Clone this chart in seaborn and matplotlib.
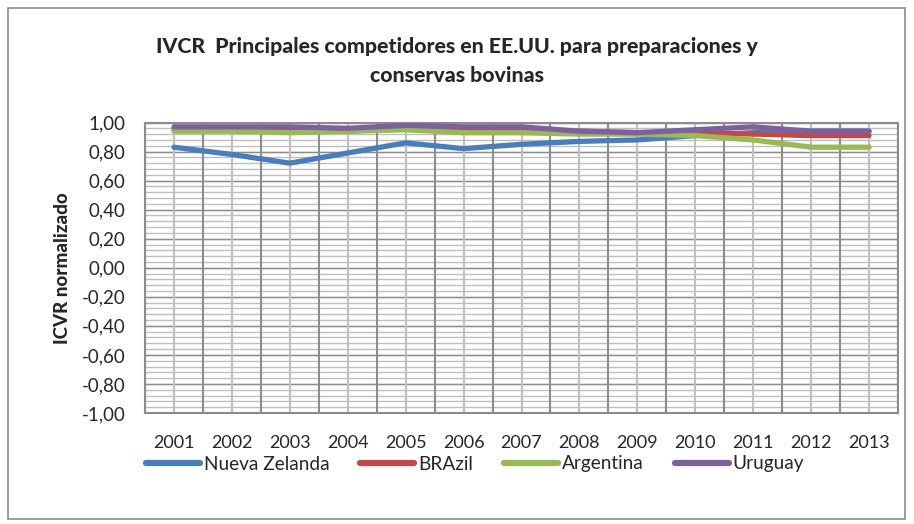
import matplotlib
matplotlib.use("Agg")
import matplotlib.pyplot as plt
import matplotlib.patches as mpatches
from matplotlib.lines import Line2D
import seaborn as sns
import pandas as pd
import numpy as np

years = [2001, 2002, 2003, 2004, 2005, 2006, 2007, 2008, 2009, 2010, 2011, 2012, 2013]
nueva_zelanda = [0.83, 0.78, 0.72, 0.79, 0.86, 0.82, 0.85, 0.87, 0.88, 0.91, 0.93, 0.94, 0.94]
brazil = [0.95, 0.95, 0.95, 0.94, 0.96, 0.95, 0.95, 0.94, 0.93, 0.93, 0.92, 0.91, 0.91]
argentina = [0.94, 0.94, 0.93, 0.94, 0.95, 0.93, 0.93, 0.92, 0.92, 0.91, 0.88, 0.83, 0.83]
uruguay = [0.97, 0.97, 0.97, 0.96, 0.98, 0.97, 0.97, 0.94, 0.93, 0.95, 0.97, 0.94, 0.94]
series_names = ["Nueva Zelanda", "BRAzil", "Argentina", "Uruguay"]
colors = ["#4A7EBB", "#BE4B48", "#98B954", "#7D60A0"]
ytick_vals = [1.0, 0.8, 0.6, 0.4, 0.2, 0.0, -0.2, -0.4, -0.6, -0.8, -1.0]
ytick_labels = ["1,00", "0,80", "0,60", "0,40", "0,20", "0,00", "-0,20", "-0,40", "-0,60", "-0,80", "-1,00"]
title = "IVCR  Principales competidores en EE.UU. para preparaciones y\nconservas bovinas"
ylabel = "ICVR normalizado"

sns.set_theme(style="white")
plt.rcParams["font.family"] = ["Lato", "DejaVu Sans"]

rows = []
for name, vals in zip(series_names, [nueva_zelanda, brazil, argentina, uruguay]):
    for y, v in zip(years, vals):
        rows.append({"year": y, "value": v, "serie": name})
df = pd.DataFrame(rows)

fig = plt.figure(figsize=(9.14, 5.24), dpi=100)
ax = fig.add_axes([145/914, 1-413/524, (898-145)/914, (413-122.5)/524])

# grid
minor_y = np.arange(-1.0, 1.0001, 0.04)
for yv in minor_y:
    ax.axhline(yv, color="#BFBFBF", lw=1.0, zorder=0)
for yv in ytick_vals:
    ax.axhline(yv, color="#8C8C8C", lw=1.0, zorder=0.5)
for x in years:
    ax.axvline(x, color="#BFBFBF", lw=1.5, zorder=0.6)
for x in np.arange(years[0] - 0.5, years[-1] + 0.51, 1.0):
    ax.axvline(x, color="#8C8C8C", lw=1.5, zorder=0.7)

sns.lineplot(data=df, x="year", y="value", hue="serie", hue_order=series_names,
             palette=colors, linewidth=3.8, ax=ax, legend=False, zorder=3,
             solid_capstyle="round")

ax.set_xlim(years[0] - 0.5, years[-1] + 0.5)
ax.set_ylim(-1.0, 1.0)
ax.set_xticks(years)
ax.set_xticklabels([str(y) for y in years], fontsize=13)
ax.set_yticks(ytick_vals)
ax.set_yticklabels(ytick_labels, fontsize=13.5)
ax.tick_params(axis="x", length=0, pad=16)
ax.tick_params(axis="y", length=0, pad=14)
ax.set_xlabel("")
ax.set_ylabel(ylabel, fontsize=13.5, fontweight="black", labelpad=8)
for s in ax.spines.values():
    s.set_color("#8C8C8C")
    s.set_linewidth(1.5)

fig.text(0.5, 1 - 61/524, title, ha="center", va="center", fontsize=15.3,
         fontweight="black", linespacing=1.65)

handles = [Line2D([0], [0], color=c, lw=4.5) for c in colors]
fig.legend(handles, series_names, loc="center", bbox_to_anchor=(475/914, 1 - 464/524),
           ncol=4, frameon=False, fontsize=13.7, handlelength=2.84, handletextpad=0.2,
           columnspacing=1.63)

border = mpatches.Rectangle((8/914, 5/524), (905-8)/914, (516-5)/524, transform=fig.transFigure,
                            fill=False, edgecolor="#8C8C8C", lw=1.2)
fig.patches.append(border)

fig.savefig("out.png", dpi=100)
